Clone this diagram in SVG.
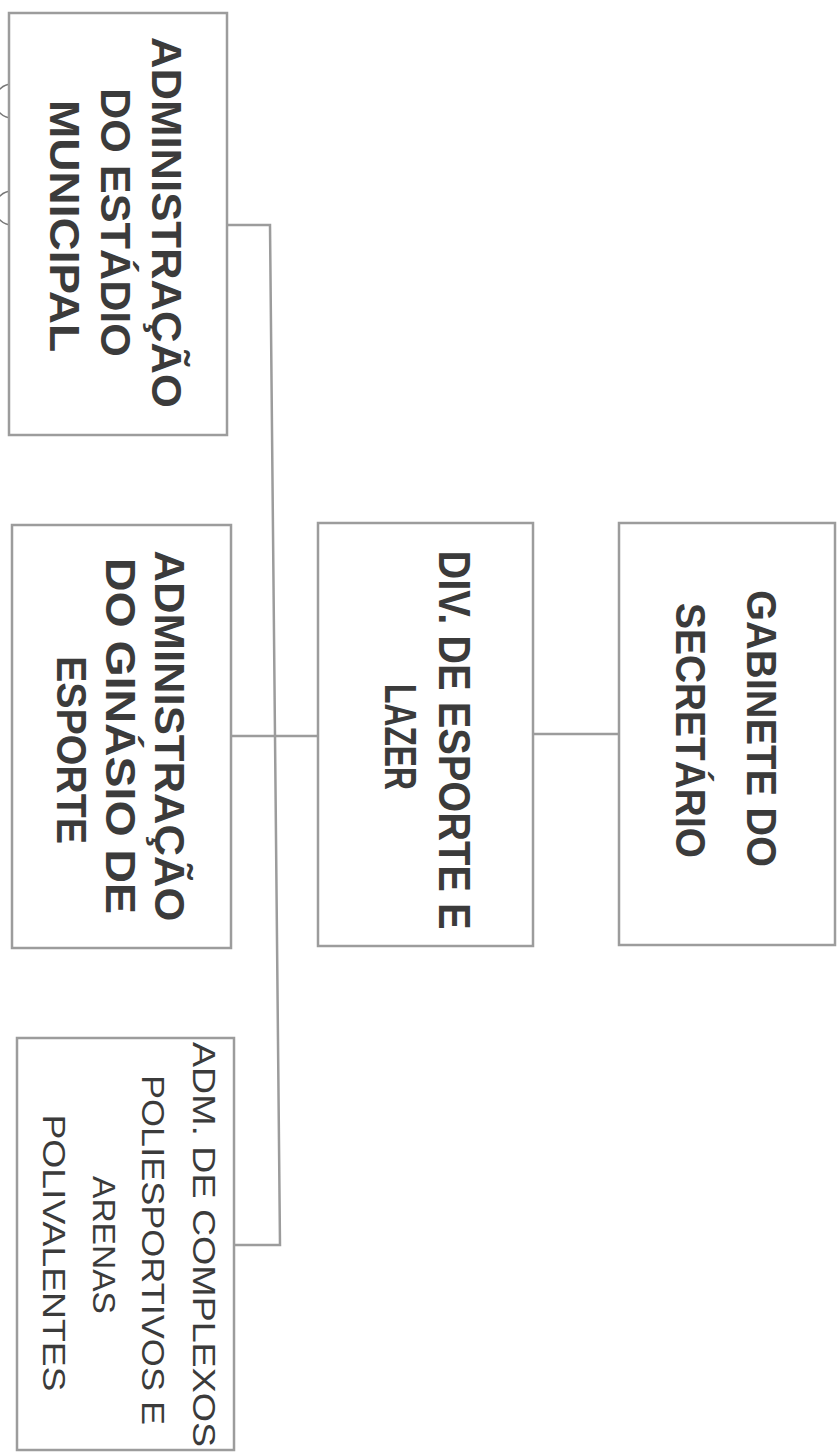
<svg xmlns="http://www.w3.org/2000/svg" width="838" height="1456" viewBox="0 0 838 1456">
<style>
.box{fill:#ffffff;stroke:#9c9c9c;stroke-width:2.5}
.con{fill:none;stroke:#9c9c9c;stroke-width:2.5}
.t{font-family:"Liberation Sans","DejaVu Sans",sans-serif;fill:#3b3b3b;text-anchor:middle}
.b{font-weight:bold}
.r{font-weight:normal}
.art{fill:none;stroke:#777;stroke-width:1.5}
</style>
<rect width="838" height="1456" fill="#ffffff"/>
<g id="artifacts">
<path class="art" d="M12 84 A17 17 0 0 0 12 118"/>
<path class="art" d="M12 191 A17 17 0 0 0 12 225"/>
</g>
<g id="connectors">
<polyline class="con" points="227,225 270,225 275,736 280,1245 234,1245"/>
<line class="con" x1="231" y1="736" x2="318" y2="736"/>
<line class="con" x1="533" y1="734" x2="619" y2="734"/>
</g>
<g id="node-estadio">
<rect class="box" x="9" y="13" width="218" height="422"/>
<text class="t b" font-size="42" textLength="371" lengthAdjust="spacingAndGlyphs" transform="translate(152,222.5) rotate(90)">ADMINISTRAÇÃO</text>
<text class="t b" font-size="42" textLength="269" lengthAdjust="spacingAndGlyphs" transform="translate(101,222.5) rotate(90)">DO ESTÁDIO</text>
<text class="t b" font-size="42" textLength="252" lengthAdjust="spacingAndGlyphs" transform="translate(50,226) rotate(90)">MUNICIPAL</text>
</g>
<g id="node-ginasio">
<rect class="box" x="12" y="525" width="219" height="423"/>
<text class="t b" font-size="42" textLength="371" lengthAdjust="spacingAndGlyphs" transform="translate(155,736) rotate(90)">ADMINISTRAÇÃO</text>
<text class="t b" font-size="42" textLength="356" lengthAdjust="spacingAndGlyphs" transform="translate(106,736) rotate(90)">DO GINÁSIO DE</text>
<text class="t b" font-size="42" textLength="188" lengthAdjust="spacingAndGlyphs" transform="translate(57,750) rotate(90)">ESPORTE</text>
</g>
<g id="node-divisao">
<rect class="box" x="318" y="523" width="215" height="423"/>
<text class="t b" font-size="44" textLength="379" lengthAdjust="spacingAndGlyphs" transform="translate(439,740) rotate(90)">DIV. DE ESPORTE E</text>
<text class="t b" font-size="44" textLength="106" lengthAdjust="spacingAndGlyphs" transform="translate(385,737) rotate(90)">LAZER</text>
</g>
<g id="node-gabinete">
<rect class="box" x="619" y="523" width="216" height="422"/>
<text class="t b" font-size="43" textLength="277" lengthAdjust="spacingAndGlyphs" transform="translate(747,728.5) rotate(90)">GABINETE DO</text>
<text class="t b" font-size="43" textLength="255" lengthAdjust="spacingAndGlyphs" transform="translate(676,730.5) rotate(90)">SECRETÁRIO</text>
</g>
<g id="node-complexos">
<rect class="box" x="17" y="1038" width="217" height="412"/>
<text class="t r" font-size="31" textLength="405" lengthAdjust="spacingAndGlyphs" transform="translate(193,1244.5) rotate(90)">ADM. DE COMPLEXOS</text>
<text class="t r" font-size="31" textLength="350" lengthAdjust="spacingAndGlyphs" transform="translate(142,1250) rotate(90)">POLIESPORTIVOS E</text>
<text class="t r" font-size="31" textLength="138" lengthAdjust="spacingAndGlyphs" transform="translate(93,1245) rotate(90)">ARENAS</text>
<text class="t r" font-size="31" textLength="277" lengthAdjust="spacingAndGlyphs" transform="translate(43,1253) rotate(90)">POLIVALENTES</text>
</g>
</svg>
